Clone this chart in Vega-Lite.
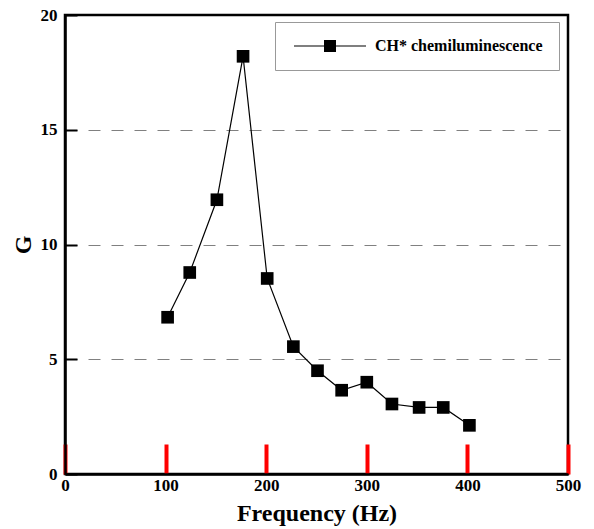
{
  "$schema": "https://vega.github.io/schema/vega-lite/v6.json",
  "width": 503,
  "height": 459,
  "autosize": "none",
  "padding": {"left": 65, "top": 15, "right": 26, "bottom": 55},
  "background": "white",
  "config": {
    "view": {"stroke": "black", "strokeWidth": 2.5},
    "font": "Liberation Serif"
  },
  "data": {
    "values": [
      {"f": 102, "G": 6.83, "series": "CH* chemiluminescence"},
      {"f": 124, "G": 8.78, "series": "CH* chemiluminescence"},
      {"f": 151, "G": 11.95, "series": "CH* chemiluminescence"},
      {"f": 177, "G": 18.2, "series": "CH* chemiluminescence"},
      {"f": 201, "G": 8.52, "series": "CH* chemiluminescence"},
      {"f": 227, "G": 5.55, "series": "CH* chemiluminescence"},
      {"f": 251, "G": 4.5, "series": "CH* chemiluminescence"},
      {"f": 275, "G": 3.65, "series": "CH* chemiluminescence"},
      {"f": 300, "G": 4.0, "series": "CH* chemiluminescence"},
      {"f": 325, "G": 3.05, "series": "CH* chemiluminescence"},
      {"f": 352, "G": 2.9, "series": "CH* chemiluminescence"},
      {"f": 376, "G": 2.9, "series": "CH* chemiluminescence"},
      {"f": 402, "G": 2.12, "series": "CH* chemiluminescence"}
    ]
  },
  "encoding": {
    "x": {
      "field": "f", "type": "quantitative",
      "scale": {"domain": [0, 500], "nice": false},
      "axis": {
        "title": "Frequency (Hz)",
        "values": [0, 100, 200, 300, 400, 500],
        "labelOverlap": false,
        "labelFlush": false,
        "grid": false,
        "ticks": true,
        "tickSize": -30,
        "tickWidth": 4,
        "tickColor": "red",
        "domainColor": "black", "domainWidth": 2.5,
        "labelPadding": 33,
        "labelFont": "Liberation Serif", "labelFontWeight": "bold", "labelFontSize": 17, "labelColor": "black",
        "titleFont": "Liberation Serif", "titleFontWeight": "bold", "titleFontSize": 24, "titleColor": "black",
        "titlePadding": 8
      }
    },
    "y": {
      "field": "G", "type": "quantitative",
      "scale": {"domain": [0, 20], "nice": false},
      "axis": {
        "title": "G",
        "values": [0, 5, 10, 15, 20],
        "labelOverlap": false,
        "labelFlush": false,
        "grid": true,
        "gridColor": "#808080",
        "gridDash": [12, 11],
        "gridWidth": 1,
        "gridOpacity": {"condition": {"test": "datum.value === 5 || datum.value === 10 || datum.value === 15", "value": 1}, "value": 0},
        "ticks": true,
        "tickSize": -12,
        "tickWidth": 2,
        "tickColor": "black",
        "domainColor": "black", "domainWidth": 2.5,
        "labelPadding": 20,
        "labelFont": "Liberation Serif", "labelFontWeight": "bold", "labelFontSize": 17, "labelColor": "black",
        "titleFont": "Liberation Serif", "titleFontWeight": "bold", "titleFontSize": 24, "titleColor": "black",
        "titlePadding": 5
      }
    }
  },
  "layer": [
    {
      "data": {"values": [{"v": 50}, {"v": 150}, {"v": 250}, {"v": 350}, {"v": 450}]},
      "mark": {"type": "rule", "color": "blue", "strokeWidth": 4},
      "encoding": {"x": {"field": "v", "type": "quantitative"}, "y": {"datum": 0}, "y2": {"datum": 10}}
    },
    {
      "data": {"values": [{"v": 2.5}, {"v": 7.5}, {"v": 12.5}, {"v": 17.5}]},
      "mark": {"type": "rule", "color": "black", "strokeWidth": 1},
      "encoding": {"y": {"field": "v", "type": "quantitative"}, "x": {"datum": 0}, "x2": {"datum": 6}}
    },
    {
      "mark": {"type": "line", "color": "black", "strokeWidth": 1.2},
      "encoding": {}
    },
    {
      "mark": {"type": "point", "shape": "square", "filled": true, "opacity": 1, "size": 160},
      "encoding": {
        "color": {
          "field": "series", "type": "nominal",
          "scale": {"range": ["black"]},
          "legend": {
            "title": null,
            "orient": "none",
            "legendX": 210,
            "legendY": 7,
            "padding": 16,
            "strokeColor": "#999999",
            "fillColor": "white",
            "symbolType": "M-6,0H6M-0.9,-0.9H0.9V0.9H-0.9Z",
            "symbolSize": 144,
            "symbolOffset": 31,
            "symbolStrokeWidth": 1.2,
            "symbolStrokeColor": "black",
            "symbolFillColor": "black",
            "labelLimit": 400,
            "labelFont": "Liberation Serif", "labelFontWeight": "bold", "labelFontSize": 16, "labelColor": "black",
            "labelOffset": 37
          }
        }
      }
    },
    {
      "data": {"values": [{}]},
      "mark": {"type": "text", "font": "Liberation Serif", "fontWeight": "bold", "fontSize": 17, "color": "black"},
      "encoding": {
        "x": {"datum": 70},
        "y": {"datum": 17.8},
        "text": {"value": "(A)"}
      }
    }
  ]
}
